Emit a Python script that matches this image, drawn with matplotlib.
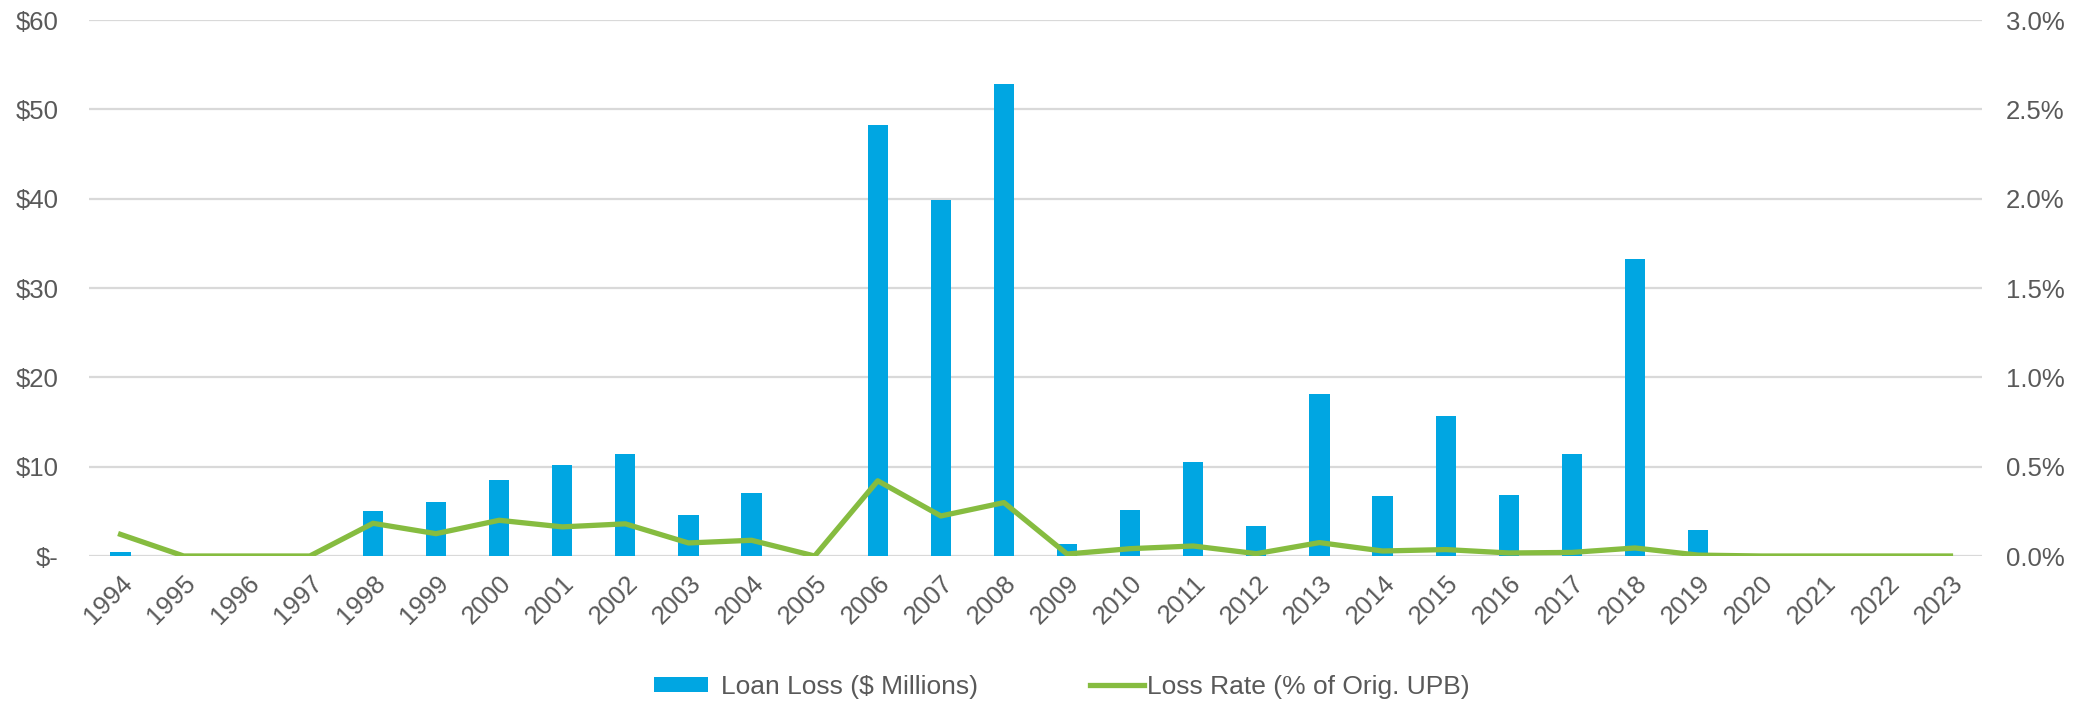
"""Annual loan loss ($M) with loss rate (% of original UPB) on a secondary axis."""

import matplotlib.pyplot as plt
import matplotlib.transforms as mtransforms
import numpy as np
from matplotlib.ticker import FuncFormatter

plt.rcParams["font.family"] = ["Liberation Sans", "DejaVu Sans"]

BAR_COLOR = "#00A6E2"
LINE_COLOR = "#86BC40"
TEXT_COLOR = "#595959"
GRID_COLOR = "#D9D9D9"
W, H = 2085, 704

years = [str(y) for y in range(1994, 2024)]
loan_loss = [
    0.5, 0.0, 0.0, 0.0, 5.0, 6.1, 8.5, 10.15, 11.45, 4.6,
    7.1, 0.0, 48.2, 39.8, 52.8, 1.3, 5.2, 10.55, 3.35, 18.15,
    6.7, 15.7, 6.8, 11.45, 33.2, 2.95, 0.0, 0.0, 0.0, 0.0,
]
loss_rate = [
    0.121, 0.0, 0.0, 0.0, 0.183, 0.125, 0.200, 0.163, 0.180, 0.073,
    0.088, 0.0, 0.421, 0.224, 0.299, 0.011, 0.041, 0.056, 0.013, 0.075,
    0.028, 0.036, 0.017, 0.020, 0.045, 0.005, 0.0, 0.0, 0.0, 0.0,
]

x = np.arange(len(years))

fig = plt.figure(figsize=(W / 100, H / 100), dpi=100)
ax = fig.add_axes([89 / W, 1 - 556 / H, 1893 / W, 536 / H])
ax2 = ax.twinx()

bars = ax.bar(x, loan_loss, width=0.32, color=BAR_COLOR, zorder=2)
line, = ax2.plot(x, loss_rate, color=LINE_COLOR, linewidth=3.8, zorder=3)

ax.set_xlim(-0.5, len(years) - 0.5)
ax.set_ylim(0, 60)
ax.set_yticks(np.arange(0, 61, 10))
ax.yaxis.set_major_formatter(FuncFormatter(lambda v, _: "$-" if v == 0 else f"${v:.0f}"))
ax.grid(axis="y", color=GRID_COLOR, linewidth=1.6, zorder=0)
ax.set_axisbelow(True)

ax2.set_ylim(0, 3.0)
ax2.set_yticks(np.arange(0, 3.01, 0.5))
ax2.yaxis.set_major_formatter(FuncFormatter(lambda v, _: f"{v:.1f}%"))

ax.set_xticks(x)
ax.set_xticklabels(years, rotation=45, ha="right", rotation_mode="anchor")
shift = mtransforms.ScaledTranslation(3 / 100, 0, fig.dpi_scale_trans)
for lbl in ax.get_xticklabels():
    lbl.set_transform(lbl.get_transform() + shift)

for a in (ax, ax2):
    for s in a.spines.values():
        s.set_visible(False)
    a.tick_params(length=0, labelsize=18.5, colors=TEXT_COLOR)
ax.tick_params(axis="y", pad=22)
ax.tick_params(axis="x", pad=11)
ax2.tick_params(axis="y", pad=17)

legend_kw = dict(loc="center left", frameon=False, fontsize=19,
                 labelcolor=TEXT_COLOR, borderpad=0, borderaxespad=0,
                 handlelength=2.05)
fig.legend([bars], ["Loan Loss ($ Millions)"],
           bbox_to_anchor=(654 / W, 1 - 687 / H),
           handleheight=0.48, handletextpad=0.5, **legend_kw)
fig.legend([line], ["Loss Rate (% of Orig. UPB)"],
           bbox_to_anchor=(1090 / W, 1 - 687 / H),
           handletextpad=0.12, **legend_kw)

fig.savefig("out.png", dpi=100)
